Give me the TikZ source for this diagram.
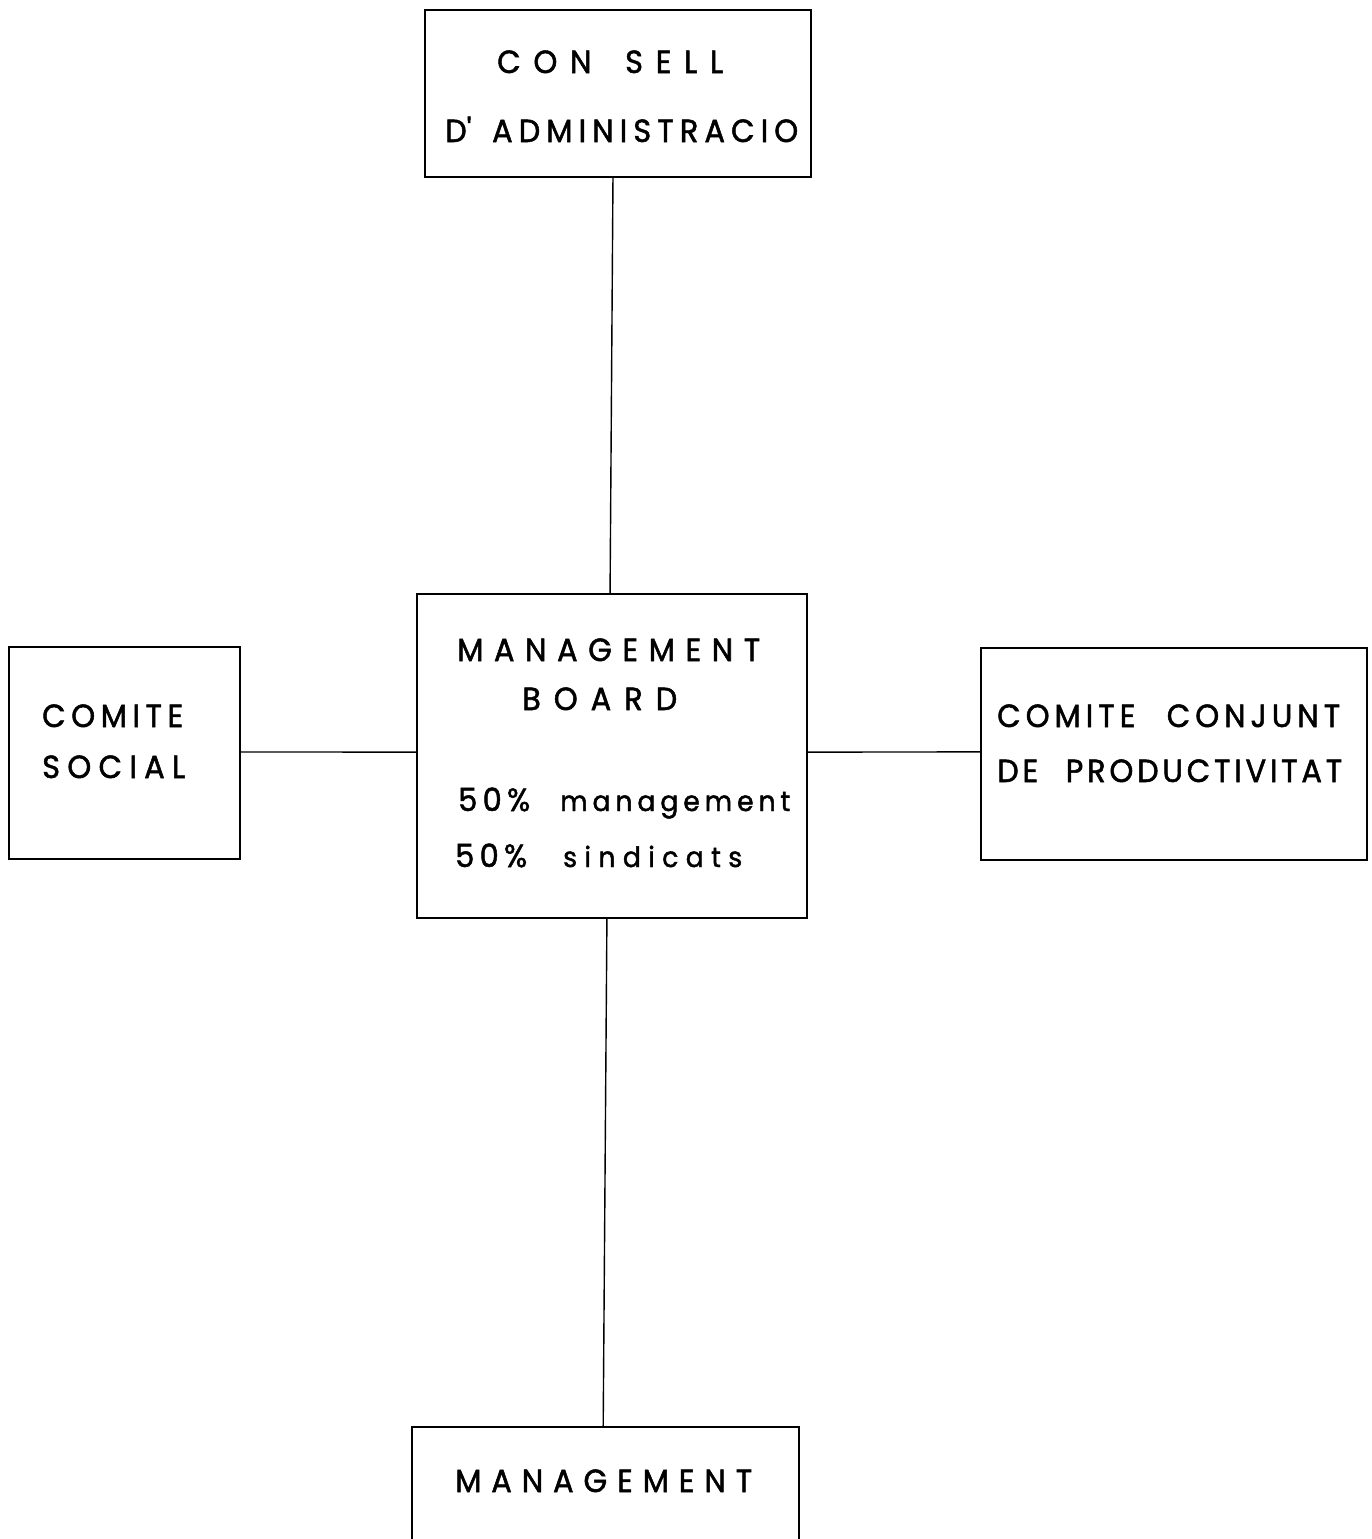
\documentclass[tikz,border=0pt]{standalone}
\usepackage{fontspec}
\setmainfont{Poppins}[FakeStretch=0.95, FakeBold=1.6]
\usetikzlibrary{calc}
% spread the letters of a line evenly over a given width
\makeatletter
\def\sp@end{\sp@end}
\def\sp@loop#1{\ifx\sp@end#1\else\hfil#1\expandafter\sp@loop\fi}
\def\sp@first#1{#1\sp@loop}
\newcommand\spreadto[2]{\hbox to #1{\sp@first#2\sp@end}}
\makeatother
\tikzset{
  box/.style={draw, line width=2pt, inner sep=0pt, outer sep=0pt},
  link/.style={line width=1.4pt},
  caps/.style={anchor=base west, inner sep=0pt, font=\fontsize{32}{32}\selectfont},
  lower/.style={anchor=base west, inner sep=0pt, font=\fontsize{28}{28}\selectfont},
}
\begin{document}
\begin{tikzpicture}[x=1pt, y=-1pt]
\clip (0,0) rectangle (1371,1539);
\fill[white] (0,0) rectangle (1371,1539);

% boxes
\node[box, minimum width=386, minimum height=167] (consell) at (618,93.5) {};
\node[box, minimum width=390, minimum height=324] (board) at (612,756) {};
\node[box, minimum width=231, minimum height=212] (social) at (124.5,753) {};
\node[box, minimum width=386, minimum height=212] (conjunt) at (1174,754) {};
\node[box, minimum width=387, minimum height=153] (mgmt) at (605.5,1503.5) {};

% connectors
\draw[link] ($(consell.south west)!0.487!(consell.south east)$) -- ($(board.north west)!0.495!(board.north east)$);
\draw[link] ($(board.south west)!0.487!(board.south east)$) -- ($(mgmt.north west)!0.494!(mgmt.north east)$);
\draw[link] ($(social.north east)!0.495!(social.south east)$) -- ($(board.north west)!0.488!(board.south west)$);
\draw[link] ($(board.north east)!0.488!(board.south east)$) -- ($(conjunt.north west)!0.49!(conjunt.south west)$);

% labels
\node[caps] (cons1) at (497,73) {\spreadto{226pt}{CON~SELL}};
\node[caps] (cons2) at (445,142) {\spreadto{353pt}{{D\textquotesingle}~ADMINISTRACIO}};
\node[caps] (mb1) at (457,661) {\spreadto{303pt}{MANAGEMENT}};
\node[caps] (mb2) at (522,710) {\spreadto{155pt}{BOARD}};
\node[caps] (mb3a) at (458,811) {\spreadto{72pt}{50\%}};
\node[lower] (mb3b) at (560,811) {\spreadto{230pt}{management}};
\node[caps] (mb4a) at (455,867) {\spreadto{72pt}{50\%}};
\node[lower] (mb4b) at (563,867) {\spreadto{179pt}{sindicats}};
\node[caps] (soc1) at (42,727) {\spreadto{141pt}{COMITE}};
\node[caps] (soc2) at (42,778) {\spreadto{143pt}{SOCIAL}};
\node[caps] (conj1) at (997,727) {\spreadto{343pt}{COMITE~~CONJUNT}};
\node[caps] (conj2) at (997,782) {\spreadto{345pt}{DE~~PRODUCTIVITAT}};
\node[caps] (mg) at (455,1492) {\spreadto{297pt}{MANAGEMENT}};
\end{tikzpicture}
\end{document}
